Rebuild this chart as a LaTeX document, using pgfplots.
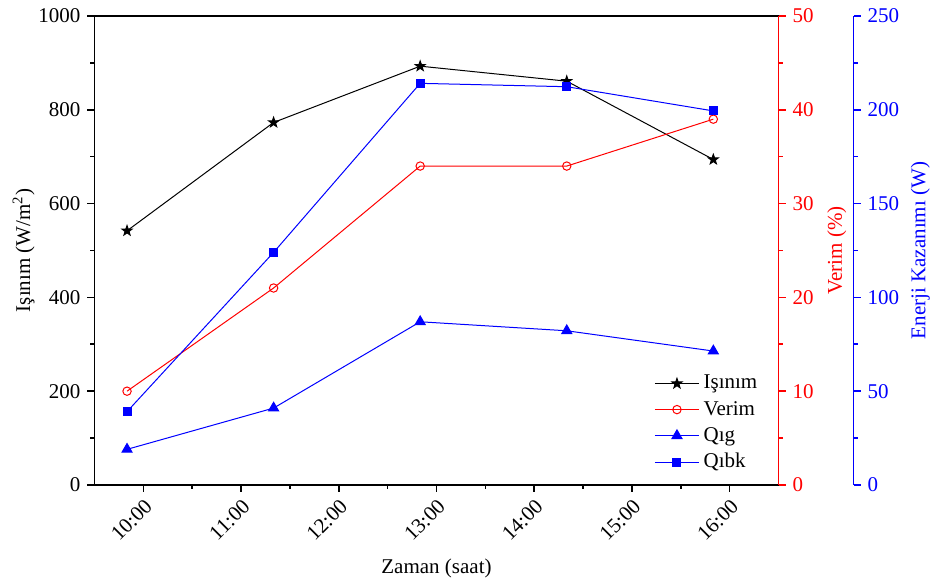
\documentclass[border=0pt]{standalone}
\usepackage{fontspec}
\setmainfont{Liberation Serif}
\usepackage{pgfplots}
\pgfplotsset{compat=1.18}

% filled five-point star
\pgfdeclareplotmark{fstar}{%
  \pgfpathmoveto{\pgfpointpolar{90}{\pgfplotmarksize}}%
  \pgfpathlineto{\pgfpointpolar{126}{0.4\pgfplotmarksize}}%
  \pgfpathlineto{\pgfpointpolar{162}{\pgfplotmarksize}}%
  \pgfpathlineto{\pgfpointpolar{198}{0.4\pgfplotmarksize}}%
  \pgfpathlineto{\pgfpointpolar{234}{\pgfplotmarksize}}%
  \pgfpathlineto{\pgfpointpolar{270}{0.4\pgfplotmarksize}}%
  \pgfpathlineto{\pgfpointpolar{306}{\pgfplotmarksize}}%
  \pgfpathlineto{\pgfpointpolar{342}{0.4\pgfplotmarksize}}%
  \pgfpathlineto{\pgfpointpolar{18}{\pgfplotmarksize}}%
  \pgfpathlineto{\pgfpointpolar{54}{0.4\pgfplotmarksize}}%
  \pgfpathclose\pgfusepathqfillstroke}

\pgfplotsset{
  common/.style={
    scale only axis, height=234.5pt,
    ymin=0, xmin=9.5,
    tick align=outside,
    minor tick num=1,
    major tick length=3.5pt, minor tick length=2pt,
    axis line style={line width=0.9pt},
    every tick/.style={line width=0.8pt},
    yticklabel={\pgfmathprintnumber[assume math mode=true, 1000 sep={}]{\tick}},
    tick label style={font=\rmfamily\fontsize{10.5}{12}\selectfont},
    label style={font=\rmfamily\fontsize{10.5}{12}\selectfont},
  },
}

\begin{document}
\begin{tikzpicture}
\begin{axis}[common, name=main,
  width=342pt, xmax=16.5, ymax=1000,
  xtick={10,11,12,13,14,15,16},
  xticklabels={10:00,11:00,12:00,13:00,14:00,15:00,16:00},
  x tick label style={rotate=45, anchor=north east, inner sep=2pt},
  ytick={0,200,400,600,800,1000},
  xtick pos=bottom, ytick pos=left,
  xlabel={Zaman (saat)},
  xlabel style={yshift=-2pt},
  ylabel={Işınım (W/m\textsuperscript{2})},
  ylabel style={yshift=-5pt},
]
\addplot[black, line width=0.5pt, mark=fstar, mark size=2.6pt]
  coordinates {(9.833,542) (11.333,773) (12.833,893) (14.333,861) (15.833,694)};
\end{axis}

\begin{axis}[common,
  width=342pt, xmax=16.5, ymax=50,
  axis x line=none, axis y line*=right,
  red, y axis line style={red},
  ytick={0,10,20,30,40,50},
  ylabel={Verim (\%)},
]
\addplot[red, line width=0.5pt, mark=o, mark size=2.1pt, mark options={fill=white}]
  coordinates {(9.833,10) (11.333,21) (12.833,34) (14.333,34) (15.833,39)};
\end{axis}

\begin{axis}[common,
  width=379.5pt, xmax=17.2675, ymax=250,
  axis x line=none, axis y line*=right,
  blue, y axis line style={blue},
  ytick={0,50,100,150,200,250},
  ylabel={Enerji Kazanımı (W)},
  ylabel style={yshift=1pt},
  legend style={draw=none, fill=none, at={(rel axis cs:0.887,0.252)}, anchor=north east,
    font=\rmfamily\fontsize{10.5}{12}\selectfont, text=black, row sep=0.6pt},
  legend cell align=left,
  legend image code/.code={\draw[mark repeat=2, mark phase=2] plot coordinates {(0cm,0cm) (0.39cm,0cm) (0.78cm,0cm)};},
]
\addlegendimage{black, line width=0.5pt, mark=fstar, mark size=2.6pt}
\addlegendentry{Işınım}
\addlegendimage{red, line width=0.5pt, mark=o, mark size=2.1pt, mark options={fill=white}}
\addlegendentry{Verim}
\addplot[blue, line width=0.5pt, mark=triangle*, mark size=2.9pt]
  coordinates {(9.833,19) (11.333,41) (12.833,87) (14.333,82.2) (15.833,71.4)};
\addlegendentry{Qıg}
\addplot[blue, line width=0.5pt, mark=square*, mark size=2pt]
  coordinates {(9.833,39.1) (11.333,124) (12.833,214.1) (14.333,212.3) (15.833,199.4)};
\addlegendentry{Qıbk}
\end{axis}

\pgfresetboundingbox
\path ([shift={(-47.25pt,-50.5pt)}]main.south west) rectangle ([shift={(76.75pt,8pt)}]main.north east);
\end{tikzpicture}
\end{document}
